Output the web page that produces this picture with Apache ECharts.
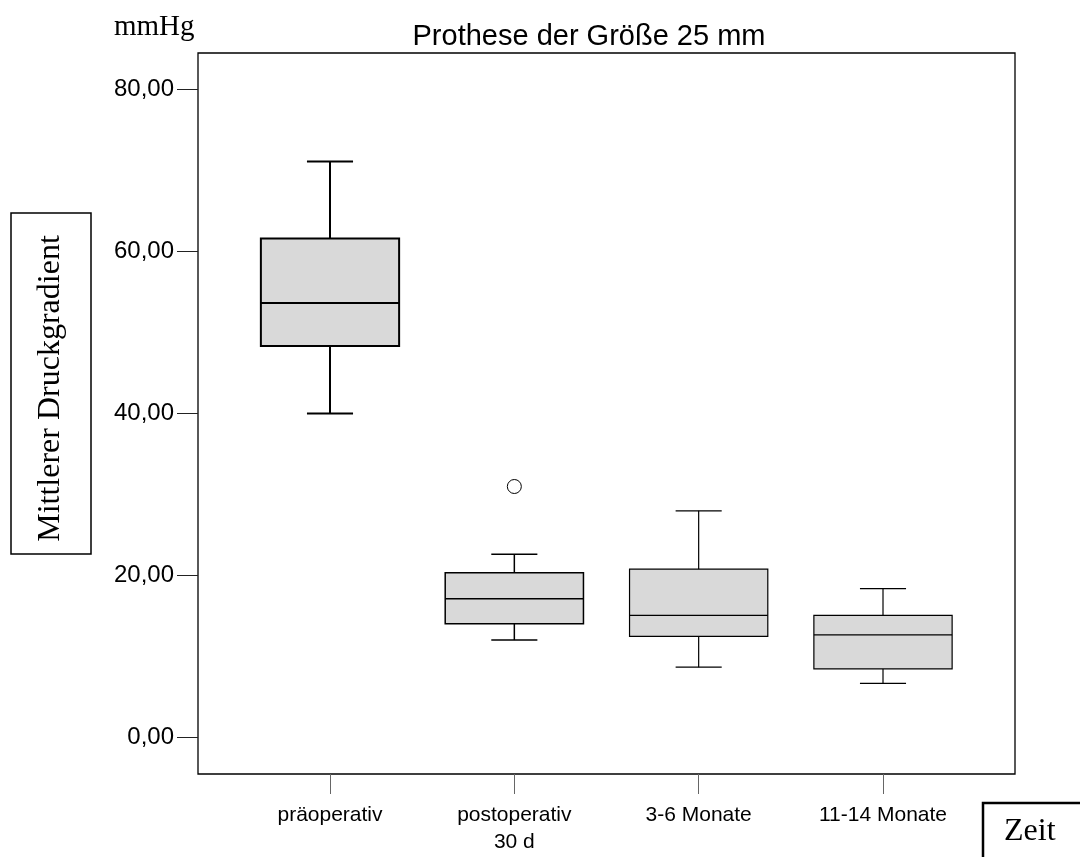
<!DOCTYPE html>
<html><head><meta charset="utf-8">
<script src="https://cdn.jsdelivr.net/npm/echarts@6/dist/echarts.min.js"></script>
<style>html,body{margin:0;padding:0;background:#fff}#c{width:1080px;height:857px}</style>
</head><body><div id="c"></div>
<script>
// ---- data ----
const categories = ['präoperativ', 'postoperativ\n30 d', '3-6 Monate', '11-14 Monate'];
const whiskerLow  = [40.0, 12.05, 8.7, 6.7];
const q1          = [48.35, 14.05, 12.5, 8.5];
const median      = [53.65, 17.15, 15.1, 12.7];
const q3          = [61.6, 20.35, 20.8, 15.1];
const whiskerHigh = [71.1, 22.65, 28.0, 18.4];
const outliers    = [[1, 31.0]];
const yTickValues = [0, 20, 40, 60, 80];
const yAxisMin = -4.48, yAxisMax = 84.5;

// ---- style ----
const lineWidths = [2, 1.5, 1.2, 1.2];
const SANS = '"Liberation Sans", Arial, sans-serif';
const SERIF = '"Liberation Serif", "Times New Roman", serif';

const chart = echarts.init(document.getElementById('c'), null, {renderer: 'canvas'});

const boxData = categories.map((c, i) => [i, whiskerLow[i], q1[i], median[i], q3[i], whiskerHigh[i]]);

function renderBox(params, api) {
  const i = api.value(0);
  const x = api.coord([i, 0])[0];
  const band = api.size([1, 0])[0];
  const yLow = api.coord([i, api.value(1)])[1];
  const yQ1 = api.coord([i, api.value(2)])[1];
  const yMed = api.coord([i, api.value(3)])[1];
  const yQ3 = api.coord([i, api.value(4)])[1];
  const yHigh = api.coord([i, api.value(5)])[1];
  const bw = band * 0.75, cw = band * 0.25;
  const lw = lineWidths[i];
  const st = {stroke: '#000', lineWidth: lw, fill: null};
  return {type: 'group', children: [
    {type: 'line', shape: {x1: x, y1: yHigh, x2: x, y2: yQ3}, style: st},
    {type: 'line', shape: {x1: x, y1: yQ1, x2: x, y2: yLow}, style: st},
    {type: 'line', shape: {x1: x - cw / 2, y1: yHigh, x2: x + cw / 2, y2: yHigh}, style: st},
    {type: 'line', shape: {x1: x - cw / 2, y1: yLow, x2: x + cw / 2, y2: yLow}, style: st},
    {type: 'rect', shape: {x: x - bw / 2, y: yQ3, width: bw, height: yQ1 - yQ3},
      style: {fill: '#d9d9d9', stroke: '#000', lineWidth: lw}},
    {type: 'line', shape: {x1: x - bw / 2, y1: yMed, x2: x + bw / 2, y2: yMed}, style: st}
  ]};
}

const option = {
  animation: false,
  backgroundColor: '#fff',
  title: {
    text: 'Prothese der Größe 25 mm',
    left: 589, top: 22, textAlign: 'center', padding: 0,
    textStyle: {fontFamily: SANS, fontSize: 29, fontWeight: 'normal', color: '#000', lineHeight: 29}
  },
  grid: [
    {left: 237.83, right: 104.83, top: 53, bottom: 83, containLabel: false},
    {left: 198, right: 65, top: 53, bottom: 83, show: true, borderColor: '#000', borderWidth: 1.3, backgroundColor: 'transparent'}
  ],
  xAxis: [
    {
      type: 'category', gridIndex: 0, data: categories, boundaryGap: true,
      axisLine: {show: false, onZero: false},
      axisTick: {show: true, alignWithLabel: true, length: 20, lineStyle: {color: '#666', width: 1}},
      axisLabel: {margin: 28, fontFamily: SANS, fontSize: 21, color: '#000', lineHeight: 27, interval: 0},
      splitLine: {show: false}
    },
    {type: 'value', gridIndex: 1, show: false}
  ],
  yAxis: [
    {
      type: 'value', gridIndex: 0, min: yAxisMin, max: yAxisMax, offset: 39.83,
      axisLine: {show: false, onZero: false},
      axisTick: {show: true, length: 21, customValues: yTickValues, lineStyle: {color: '#222', width: 1}},
      axisLabel: {margin: 24, fontFamily: SANS, fontSize: 24, color: '#000', customValues: yTickValues,
        formatter: v => v.toFixed(2).replace('.', ',')},
      splitLine: {show: false}
    },
    {type: 'value', gridIndex: 1, show: false}
  ],
  series: [
    {
      type: 'custom', xAxisIndex: 0, yAxisIndex: 0,
      renderItem: renderBox,
      encode: {x: 0, y: [1, 2, 3, 4, 5]},
      data: boxData, z: 3
    },
    {
      type: 'scatter', xAxisIndex: 0, yAxisIndex: 0,
      data: outliers, symbol: 'circle', symbolSize: 14,
      itemStyle: {color: '#fff', borderColor: '#000', borderWidth: 1, opacity: 1}, z: 4
    }
  ],
  graphic: [
    {type: 'text', left: 114, top: 13, style: {text: 'mmHg', font: '29px ' + SERIF, fill: '#000'}},
    {type: 'rect', shape: {x: 11, y: 213, width: 80, height: 341},
      style: {fill: 'none', stroke: '#000', lineWidth: 1.5}},
    {type: 'text', x: 51, y: 388.5, rotation: Math.PI / 2,
      style: {text: 'Mittlerer Druckgradient', font: '32px ' + SERIF, fill: '#000', align: 'center', verticalAlign: 'middle'}},
    {type: 'rect', shape: {x: 983, y: 803, width: 140, height: 100},
      style: {fill: 'none', stroke: '#000', lineWidth: 2.5}},
    {type: 'text', x: 1004, y: 832, style: {text: 'Zeit', font: '32px ' + SERIF, fill: '#000', align: 'left', verticalAlign: 'middle'}}
  ]
};
chart.setOption(option);
</script>
</body></html>
